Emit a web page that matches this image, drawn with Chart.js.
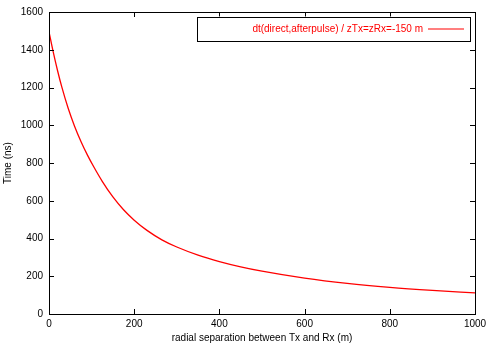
<!DOCTYPE html>
<html>
<head>
<meta charset="utf-8">
<script src="https://cdn.jsdelivr.net/npm/chart.js@4/dist/chart.umd.min.js"></script>
<style>
  html, body { margin: 0; padding: 0; background: #fff; }
  #wrap { width: 491px; height: 343px; }
</style>
</head>
<body>
<div id="wrap"><canvas id="chart"></canvas></div>
<script>
// radial separation (m) and time difference (ns)
const sepM = [0, 10, 20, 30, 45, 60, 75, 90, 105, 125, 150, 175, 200, 230, 265, 300, 350, 400, 450, 500, 600, 700, 800, 900, 1000];
const dtNs = [1495, 1387, 1290, 1203, 1090, 995, 914, 843, 780, 703, 620, 552, 497, 443, 393, 355, 312, 278, 250, 227, 190, 162, 141, 125, 112];
const xTicks = [0, 200, 400, 600, 800, 1000];
const yTicks = [0, 200, 400, 600, 800, 1000, 1200, 1400, 1600];

const FONT = "'Liberation Sans', Arial, sans-serif";
const RED = '#ff0000';

// gnuplot style frame with inward ticks on all four sides
const framePlugin = {
  id: 'frame',
  afterDatasetsDraw(chart) {
    const { ctx, chartArea: a, scales } = chart;
    ctx.save();
    ctx.strokeStyle = '#000';
    ctx.lineWidth = 1;
    ctx.strokeRect(a.left + 0.5, a.top + 0.5, a.right - a.left, a.bottom - a.top);
    const len = 5;
    ctx.beginPath();
    xTicks.forEach(v => {
      const px = Math.round(scales.x.getPixelForValue(v)) + 0.5;
      ctx.moveTo(px, a.bottom); ctx.lineTo(px, a.bottom - len);
      ctx.moveTo(px, a.top); ctx.lineTo(px, a.top + len);
    });
    yTicks.forEach(v => {
      const py = Math.round(scales.y.getPixelForValue(v)) + 0.5;
      ctx.moveTo(a.left, py); ctx.lineTo(a.left + len, py);
      ctx.moveTo(a.right, py); ctx.lineTo(a.right - len, py);
    });
    ctx.stroke();
    ctx.restore();
  },
  afterDraw(chart) {
    // legend box, top right
    const { ctx, chartArea: a } = chart;
    const ds = chart.data.datasets[0];
    const right = a.right - 5, top = a.top + 4.5, w = 273, h = 24;
    ctx.save();
    ctx.fillStyle = '#fff';
    ctx.fillRect(right - w, top, w, h);
    ctx.strokeStyle = '#000';
    ctx.lineWidth = 1;
    ctx.strokeRect(Math.round(right - w) + 0.5, Math.round(top) + 0.5, w, h);
    ctx.font = '10px ' + FONT;
    ctx.fillStyle = ds.borderColor;
    ctx.textAlign = 'right';
    ctx.textBaseline = 'middle';
    ctx.fillText(ds.label, right - 47, top + h / 2 + 0.5);
    ctx.strokeStyle = ds.borderColor;
    ctx.lineWidth = 1.2;
    ctx.beginPath();
    ctx.moveTo(right - 42, top + h / 2 + 0.5);
    ctx.lineTo(right - 6, top + h / 2 + 0.5);
    ctx.stroke();
    ctx.restore();
  }
};

new Chart(document.getElementById('chart'), {
  type: 'line',
  data: {
    datasets: [{
      label: 'dt(direct,afterpulse) / zTx=zRx=-150 m',
      data: sepM.map((x, i) => ({ x, y: dtNs[i] })),
      borderColor: RED,
      borderWidth: 1.3,
      pointRadius: 0,
      cubicInterpolationMode: 'monotone',
      fill: false,
    }],
  },
  options: {
    responsive: true,
    maintainAspectRatio: false,
    animation: false,
    layout: { padding: { left: 0, right: 16, top: 11, bottom: 0 } },
    plugins: { legend: { display: false }, tooltip: { enabled: false } },
    scales: {
      x: {
        type: 'linear',
        min: 0,
        max: 1000,
        afterBuildTicks: s => { s.ticks = xTicks.map(v => ({ value: v })); },
        afterFit: s => { s.height = 29; },
        grid: { display: false, drawTicks: false },
        border: { display: false },
        ticks: { color: '#000', padding: 4, font: { family: FONT, size: 10 }, maxRotation: 0, callback: v => String(v) },
        title: {
          display: true,
          text: 'radial separation between Tx and Rx (m)',
          color: '#000',
          font: { family: FONT, size: 10, lineHeight: 1 },
          padding: { top: 0, bottom: 0 },
        },
      },
      y: {
        min: 0,
        max: 1600,
        afterBuildTicks: s => { s.ticks = yTicks.map(v => ({ value: v })); },
        afterFit: s => { s.width = 49; },
        grid: { display: false, drawTicks: false },
        border: { display: false },
        ticks: { color: '#000', padding: 6, font: { family: FONT, size: 10 }, callback: v => String(v) },
        title: {
          display: true,
          text: 'Time (ns)',
          color: '#000',
          font: { family: FONT, size: 10, lineHeight: 1 },
          padding: { top: 3, bottom: 0 },
        },
      },
    },
  },
  plugins: [framePlugin],
});
</script>
</body>
</html>
